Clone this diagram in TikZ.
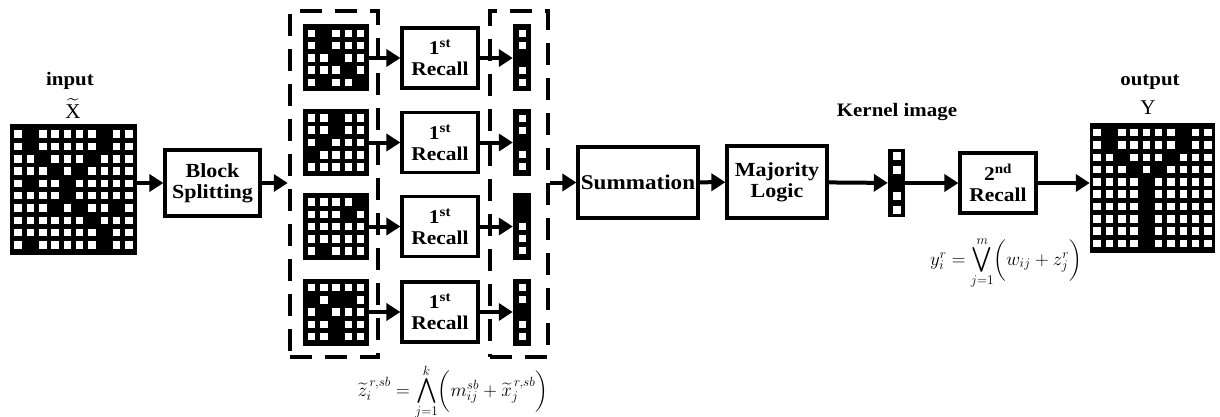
\RequirePackage{fix-cm}
\documentclass[tikz,border=0pt]{standalone}
\usepackage{amsmath}
\usepackage{fontspec}
\setmainfont{Liberation Serif}
\newfontfamily\wideserif[FakeStretch=1.1]{Liberation Serif}
\usetikzlibrary{arrows.meta,calc}

% white cells of a binary bitmap drawn over a black node
% #1 node, #2 pitch, #3 cell size, #4 column half-span, #5 row half-span, #6 rows
\newcommand{\bitfill}[6]{%
  \foreach \rowbits [count=\rr from 0] in {#6} {
    \foreach \bit [count=\cc from 0] in \rowbits {
      \ifnum\bit=1
        \fill[white] ($(#1.center)+({(\cc-#4)*#2-#3/2},{(\rr-#5)*#2-#3/2})$) rectangle ++(#3,#3);
      \fi
    }
  }
}
% medium-sized big operator, centred on the math axis
\newcommand{\midop}[1]{\mathop{\vcenter{\hbox{\fontsize{25}{25}\selectfont$#1$}}}\limits}

\begin{document}
\begin{tikzpicture}[x=1pt, y=-1pt,
  procbox/.style={draw, line width=3.2pt, fill=white, align=center,
    font=\fontsize{20}{21}\wideserif\bfseries, inner sep=0pt},
  bitmap/.style={fill=black, inner sep=0pt},
  dashbox/.style={draw, line width=4.5pt, dash pattern=on 22pt off 13pt, inner sep=0pt},
  arr/.style={line width=4pt, -{Triangle[length=14pt,width=17pt]}},
  lbl/.style={font=\fontsize{19}{19}\wideserif\bfseries, inner sep=0pt},
  formula/.style={font=\fontsize{19}{22}\selectfont, inner sep=0pt, anchor=base},
]
\useasboundingbox (0,0) rectangle (1220,417);

% ---- input image ----
\node[bitmap, minimum width=127pt, minimum height=131pt] (in) at (73.5,189.5) {};
\bitfill{in}{12.3}{7.5}{4.5}{4.5}{
  {1,0,1,1,1,1,1,0,1,1},{1,0,1,1,1,1,1,0,1,1},{1,1,0,1,1,1,0,1,1,1},
  {1,1,1,0,1,0,1,1,1,1},{1,0,1,1,0,1,1,1,1,1},{1,1,1,1,0,1,1,1,1,1},
  {1,1,1,0,1,0,1,1,0,1},{1,1,1,1,1,1,0,1,1,1},{1,1,1,1,1,1,1,0,1,1},
  {1,0,1,1,1,1,1,0,1,1}}
\node[lbl, anchor=base] (inlbl) at (70,86) {input};
\node[anchor=base, inner sep=0pt, font=\fontsize{21}{21}\selectfont] (xt) at (73,118) {$\widetilde{\hbox{X}}$};

% ---- block splitting ----
\node[procbox, minimum width=95pt, minimum height=66pt] (bs) at (212.5,183) {Block\\Splitting};

% ---- dashed groups ----
\node[dashbox, minimum width=88pt, minimum height=346pt] (lbox) at (334,184) {};
\node[dashbox, minimum width=58pt, minimum height=346pt] (rbox) at (519,184) {};

% ---- sub-blocks, first recall, recalled columns ----
\foreach \i/\y in {1/58, 2/142.5, 3/226.5, 4/312} {
  \node[bitmap, minimum width=66pt, minimum height=67pt] (b\i) at (336,\y) {};
  \node[procbox, minimum width=76pt, minimum height=60pt, font=\fontsize{19.5}{21}\wideserif\bfseries] (r\i) at (440,\y) {1\textsuperscript{st}\\Recall};
  \node[bitmap, minimum width=18pt, minimum height=67pt] (v\i) at (522,\y) {};
}
\bitfill{b1}{12.25}{7.5}{2}{2}{{1,0,1,1,1},{1,0,1,1,1},{1,1,0,1,1},{1,1,1,0,1},{1,0,1,1,0}}
\bitfill{b2}{12.25}{7.5}{2}{2}{{1,1,0,1,1},{1,1,0,1,1},{1,0,1,1,1},{0,1,1,1,1},{1,1,1,1,1}}
\bitfill{b3}{12.25}{7.5}{2}{2}{{1,1,1,1,0},{1,1,1,0,1},{1,1,1,1,1},{1,1,1,1,1},{1,0,1,1,1}}
\bitfill{b4}{12.25}{7.5}{2}{2}{{1,1,1,1,1},{0,1,0,0,1},{1,0,1,1,1},{1,1,0,1,1},{1,1,0,1,1}}
\bitfill{v1}{12.2}{7}{0}{2}{{1},{1},{0},{1},{1}}
\bitfill{v2}{12.2}{7}{0}{2}{{1},{1},{0},{1},{1}}
\bitfill{v3}{12.2}{7}{0}{2}{{0},{0},{1},{1},{1}}
\bitfill{v4}{12.2}{7}{0}{2}{{1},{1},{0},{1},{1}}

% ---- summation, majority logic, kernel, second recall ----
\node[procbox, minimum width=120pt, minimum height=71pt, font=\fontsize{21}{22}\wideserif\bfseries] (sum) at (638,182.5) {Summation};
\node[procbox, minimum width=100pt, minimum height=72pt] (maj) at (777,182) {Majority\\Logic};
\node[bitmap, minimum width=17pt, minimum height=68pt] (ker) at (896.5,183) {};
\bitfill{ker}{13.3}{8}{0}{2}{{1},{1},{0},{1},{1}}
\node[lbl, anchor=base] (kerlbl) at (897,117) {Kernel image};
\node[procbox, minimum width=76pt, minimum height=60pt, font=\fontsize{19.5}{21}\wideserif\bfseries] (rec2) at (998,183) {2\textsuperscript{nd}\\Recall};

% ---- output image ----
\node[bitmap, minimum width=125pt, minimum height=130pt] (out) at (1152.5,188) {};
\bitfill{out}{12.3}{7.5}{4.5}{4.5}{
  {1,0,1,1,1,1,1,0,1,1},{1,0,1,1,1,1,1,0,1,1},{1,1,0,1,1,1,0,1,1,1},
  {1,1,1,0,1,0,1,1,1,1},{1,1,1,1,0,1,1,1,1,1},{1,1,1,1,0,1,1,1,1,1},
  {1,1,1,1,0,1,1,1,1,1},{1,1,1,1,0,1,1,1,1,1},{1,1,1,1,0,1,1,1,1,1},
  {1,1,1,1,0,1,1,1,1,1}}
\node[lbl, anchor=base] (outlbl) at (1150,86) {output};
\node[anchor=base, inner sep=0pt, font=\fontsize{21}{21}\selectfont] (yt) at (1148,115) {Y};

% ---- connectors ----
\draw[arr] (in.east |- bs.west) -- (bs.west);
\draw[arr] (bs.east) -- (bs.east -| lbox.west);
\foreach \i in {1,...,4} {
  \draw[arr] (b\i.east) -- (r\i.west);
  \draw[arr] (r\i.east) -- (v\i.west);
}
\draw[arr] (rbox.east |- sum.west) -- (sum.west);
\draw[arr] (sum) -- (maj);
\draw[arr] (maj) -- (ker);
\draw[arr] (ker) -- (rec2);
\draw[arr] (rec2.east) -- (rec2.east -| out.west);

% ---- recall equations ----
\node[formula] (eq1) at (453,396)
  {$\widetilde{z}_i^{\,r,sb} = \midop{\bigwedge}_{j=1}^{k}\biggl(m_{ij}^{sb} + \widetilde{x}_j^{\,r,sb}\biggr)$};
\node[formula] (eq2) at (1006,265)
  {$y_i^{r} = \midop{\bigvee}_{j=1}^{m}\biggl(w_{ij} + z_j^{r}\biggr)$};
\end{tikzpicture}
\end{document}
